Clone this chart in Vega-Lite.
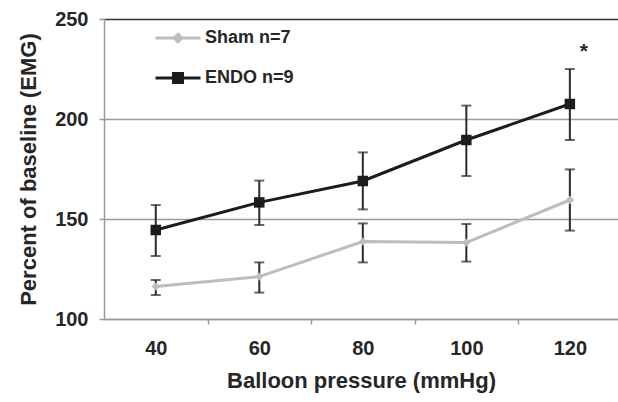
{
  "$schema": "https://vega.github.io/schema/vega-lite/v6.json",
  "width": 514,
  "height": 300,
  "autosize": {"type": "none"},
  "padding": {"left": 104, "top": 19, "right": 0, "bottom": 83},
  "background": "white",
  "config": {
    "view": {"stroke": null},
    "font": "Liberation Sans",
    "axis": {"labelFont": "Liberation Sans", "titleFont": "Liberation Sans", "labelFontWeight": "bold", "titleFontWeight": "bold", "labelColor": "#262626", "titleColor": "#262626", "labelFontSize": 20, "titleFontSize": 22}
  },
  "data": {"values": [
    {"group": "Sham n=7", "pressure": 40, "mean": 116.2, "lo": 112.0, "hi": 119.5},
    {"group": "Sham n=7", "pressure": 60, "mean": 121.2, "lo": 113.2, "hi": 128.3},
    {"group": "Sham n=7", "pressure": 80, "mean": 138.7, "lo": 128.3, "hi": 147.8},
    {"group": "Sham n=7", "pressure": 100, "mean": 138.2, "lo": 128.7, "hi": 147.5},
    {"group": "Sham n=7", "pressure": 120, "mean": 159.5, "lo": 144.2, "hi": 174.8},
    {"group": "ENDO n=9", "pressure": 40, "mean": 144.5, "lo": 131.5, "hi": 157.0},
    {"group": "ENDO n=9", "pressure": 60, "mean": 158.3, "lo": 147.0, "hi": 169.2},
    {"group": "ENDO n=9", "pressure": 80, "mean": 169.0, "lo": 154.8, "hi": 183.3},
    {"group": "ENDO n=9", "pressure": 100, "mean": 189.5, "lo": 171.5, "hi": 206.7},
    {"group": "ENDO n=9", "pressure": 120, "mean": 207.5, "lo": 189.5, "hi": 225.0, "sig": "*"}
  ]},
  "encoding": {
    "x": {
      "field": "pressure", "type": "quantitative",
      "scale": {"domain": [30, 129.3], "nice": false, "zero": false},
      "axis": {
        "values": [40, 60, 80, 100, 120],
        "title": "Balloon pressure (mmHg)",
        "grid": false,
        "domainColor": "#9a9a9a", "domainWidth": 1.5,
        "tickColor": "#9a9a9a", "tickWidth": 1.5, "tickSize": 5,
        "tickOffset": 51.75, "labelOffset": -51.75, "labelBound": false, "labelOverlap": false,
        "labelPadding": 14, "titlePadding": 12
      }
    },
    "y": {
      "type": "quantitative",
      "scale": {"domain": [100, 250], "nice": false, "zero": false},
      "axis": {
        "values": [100, 150, 200, 250],
        "title": "Percent of baseline (EMG)",
        "grid": true,
        "gridColor": {"condition": {"test": "datum.value === 250", "value": "#333333"}, "value": "#9a9a9a"},
        "gridWidth": 1.5,
        "domainColor": "#9a9a9a", "domainWidth": 1.5,
        "tickColor": "#9a9a9a", "tickWidth": 1.5, "tickSize": 5,
        "labelPadding": 11, "titlePadding": 14
      }
    }
  },
  "layer": [
    {
      "mark": {"type": "line", "strokeWidth": 3},
      "encoding": {
        "y": {"field": "mean", "type": "quantitative"},
        "color": {
          "field": "group", "type": "nominal",
          "scale": {"domain": ["Sham n=7", "ENDO n=9"], "range": ["#bdbdbd", "#1c1c1c"]},
          "legend": {
            "title": null, "orient": "none", "legendX": 50, "legendY": -5,
            "symbolSize": 2025, "symbolStrokeWidth": 3,
            "labelFont": "Liberation Sans", "labelFontWeight": "bold", "labelFontSize": 18, "labelColor": "#262626",
            "labelOffset": 3, "rowPadding": 6,
            "encode": {"symbols": {"update": {
              "shape": {"signal": "datum.value === 'Sham n=7' ? 'M-1,0H1M0,-0.17L0.17,0L0,0.17L-0.17,0Z' : 'M-1,0H1M-0.2,-0.2H0.2V0.2H-0.2Z'"},
              "fill": {"signal": "datum.value === 'Sham n=7' ? '#bdbdbd' : '#1c1c1c'"},
              "strokeWidth": {"value": 3}
            }}}
          }
        }
      }
    },
    {
      "mark": {"type": "errorbar", "ticks": {"size": 10, "thickness": 2, "color": "#2a2a2a"}, "rule": {"strokeWidth": 2, "color": "#2a2a2a"}},
      "encoding": {
        "y": {"field": "lo", "type": "quantitative"},
        "y2": {"field": "hi"},
        "detail": {"field": "group"}
      }
    },
    {
      "transform": [{"filter": "datum.group === 'Sham n=7'"}],
      "mark": {"type": "point", "filled": true, "opacity": 1, "shape": "diamond", "size": 70},
      "encoding": {
        "y": {"field": "mean", "type": "quantitative"},
        "color": {"field": "group", "type": "nominal"}
      }
    },
    {
      "transform": [{"filter": "datum.group === 'ENDO n=9'"}],
      "mark": {"type": "point", "filled": true, "opacity": 1, "shape": "square", "size": 110},
      "encoding": {
        "y": {"field": "mean", "type": "quantitative"},
        "color": {"field": "group", "type": "nominal"}
      }
    },
    {
      "transform": [{"filter": "datum.sig"}],
      "mark": {"type": "text", "fontSize": 21, "fontWeight": "bold", "dx": 14, "dy": -17, "color": "#262626"},
      "encoding": {
        "y": {"field": "hi", "type": "quantitative"},
        "text": {"field": "sig"}
      }
    }
  ]
}
